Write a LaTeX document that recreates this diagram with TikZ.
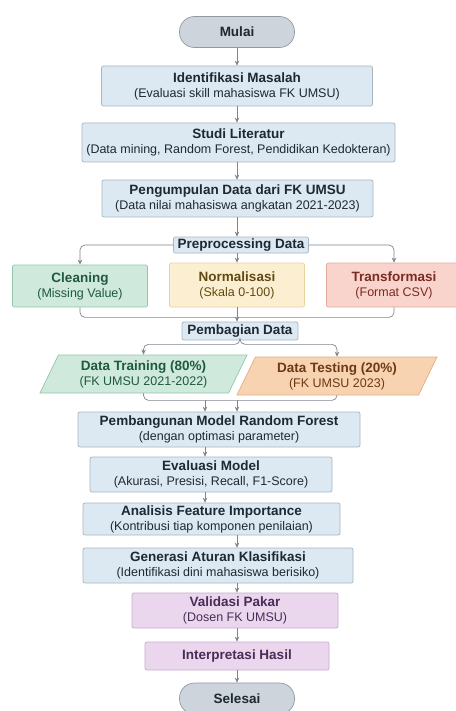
\documentclass[tikz,border=0pt]{standalone}
\usepackage{fontspec}
\setmainfont{Liberation Sans}
\usetikzlibrary{shapes.geometric,arrows.meta}

\definecolor{boxfill}{HTML}{DDE9F2}
\definecolor{boxline}{HTML}{A7B6C3}
\definecolor{termfill}{HTML}{CDD4DB}
\definecolor{termline}{HTML}{8F9AA5}
\definecolor{linec}{HTML}{7E8790}
\definecolor{greenfill}{HTML}{CFE9DC}
\definecolor{greenline}{HTML}{94C6AD}
\definecolor{greentext}{HTML}{1F5A3E}
\definecolor{yellowfill}{HTML}{FCEFD1}
\definecolor{yellowline}{HTML}{E8D29E}
\definecolor{yellowtext}{HTML}{5E4A12}
\definecolor{redfill}{HTML}{F8D4CC}
\definecolor{redline}{HTML}{E5AAA0}
\definecolor{redtext}{HTML}{7A2B22}
\definecolor{orangefill}{HTML}{F8D3B1}
\definecolor{orangeline}{HTML}{E2AE80}
\definecolor{orangetext}{HTML}{6B3A14}
\definecolor{purplefill}{HTML}{EAD7EE}
\definecolor{purpleline}{HTML}{C6ABCE}
\definecolor{purpletext}{HTML}{4A2C56}
\definecolor{inktext}{HTML}{1E2830}

\newcommand{\boxtitle}[1]{{\fontsize{13.5}{15}\selectfont\bfseries #1}}
\newcommand{\boxnote}[1]{{\fontsize{12.5}{15}\selectfont #1}}

\begin{document}
\begin{tikzpicture}[x=1pt,y=-1pt,
    box/.style={draw=boxline, fill=boxfill, rounded corners=2pt, line width=0.7pt,
      align=center, inner sep=0.5pt, text=inktext, font=\fontsize{12.5}{15}\selectfont},
    term/.style={draw=termline, fill=termfill, rounded corners=15pt, line width=0.7pt,
      minimum width=115pt, minimum height=31pt, text=inktext},
    para/.style={trapezium, trapezium left angle=57, trapezium right angle=123,
      trapezium stretches body, line width=0.7pt, align=center, minimum height=38pt,
      inner sep=0.5pt, font=\fontsize{12.5}{15}\selectfont},
    green/.style={draw=greenline, fill=greenfill, text=greentext},
    yellow/.style={draw=yellowline, fill=yellowfill, text=yellowtext},
    red/.style={draw=redline, fill=redfill, text=redtext},
    orange/.style={draw=orangeline, fill=orangefill, text=orangetext},
    purple/.style={draw=purpleline, fill=purplefill, text=purpletext},
    link/.style={draw=linec, line width=0.7pt, rounded corners=5pt},
    arr/.style={link, -{Stealth[length=5pt,width=4.5pt]}}]

  \useasboundingbox (0,0) rectangle (455,711);
  \fill[white] (0,0) rectangle (455,711);

  % main flow
  \node[term] (start) at (237,32) {\boxtitle{Mulai}};
  \node[box, minimum width=271pt, minimum height=40pt] (ident) at (237,86)
    {\boxtitle{Identifikasi Masalah}\\\boxnote{(Evaluasi skill mahasiswa FK UMSU)}};
  \node[box, minimum width=313pt, minimum height=39pt] (lit) at (238.5,142.5)
    {\boxtitle{Studi Literatur}\\\boxnote{(Data mining, Random Forest, Pendidikan Kedokteran)}};
  \node[box, minimum width=271pt, minimum height=37pt] (collect) at (237.5,198.5)
    {\boxtitle{Pengumpulan Data dari FK UMSU}\\\boxnote{(Data nilai mahasiswa angkatan 2021-2023)}};
  \node[box, minimum width=135pt, minimum height=16pt] (prep) at (241,245)
    {\boxtitle{Preprocessing Data}};

  % preprocessing steps
  \node[box, green, minimum width=135pt, minimum height=42pt] (clean) at (80,286)
    {\boxtitle{Cleaning}\\\boxnote{(Missing Value)}};
  \node[box, yellow, minimum width=135pt, minimum height=44pt] (norm) at (237,285)
    {\boxtitle{Normalisasi}\\\boxnote{(Skala 0-100)}};
  \node[box, red, minimum width=135pt, minimum height=44pt] (trans) at (394,285)
    {\boxtitle{Transformasi}\\\boxnote{(Format CSV)}};

  \node[box, minimum width=116pt, minimum height=18pt] (split) at (240,331)
    {\boxtitle{Pembagian Data}};

  % data split
  \node[para, green, minimum width=207pt] (train) at (143.5,374)
    {\boxtitle{Data Training (80\%)}\\\boxnote{(FK UMSU 2021-2022)}};
  \node[para, orange, minimum width=200pt] (test) at (337,376)
    {\boxtitle{Data Testing (20\%)}\\\boxnote{(FK UMSU 2023)}};

  % modelling
  \node[box, minimum width=282pt, minimum height=35pt] (build) at (219,429.5)
    {\boxtitle{Pembangunan Model Random Forest}\\\boxnote{(dengan optimasi parameter)}};
  \node[box, minimum width=242pt, minimum height=35pt] (eval) at (211,474.5)
    {\boxtitle{Evaluasi Model}\\\boxnote{(Akurasi, Presisi, Recall, F1-Score)}};
  \node[box, minimum width=257pt, minimum height=32pt] (feat) at (211.5,519)
    {\boxtitle{Analisis Feature Importance}\\\boxnote{(Kontribusi tiap komponen penilaian)}};
  \node[box, minimum width=270pt, minimum height=35pt] (rules) at (218,565.5)
    {\boxtitle{Generasi Aturan Klasifikasi}\\\boxnote{(Identifikasi dini mahasiswa berisiko)}};
  \node[box, purple, minimum width=206pt, minimum height=35pt] (expert) at (235,610.5)
    {\boxtitle{Validasi Pakar}\\\boxnote{(Dosen FK UMSU)}};
  \node[box, purple, minimum width=184pt, minimum height=28pt] (interp) at (237,656)
    {\boxtitle{Interpretasi Hasil}};
  \node[term] (finish) at (237,698.5) {\boxtitle{Selesai}};

  % connectors
  \coordinate (axis) at (237,0);
  \coordinate (axisL) at (205,0);
  \coordinate (mergeL) at (205,400);
  \coordinate (mergeR) at (237,400);

  \draw[arr] (start.south -| axis) -- (ident.north -| axis);
  \draw[arr] (ident.south -| axis) -- (lit.north -| axis);
  \draw[arr] (lit.south -| axis) -- (collect.north -| axis);
  \draw[arr] (collect.south -| axis) -- (prep.north -| axis);

  \draw[arr] (prep.west) -| (clean.north);
  \draw[arr] (prep.east) -| (trans.north);
  \draw[arr] (prep.south -| axis) -- (norm.north);
  \draw[link] (clean.south) -- ++(0,10) -| (trans.south);
  \draw[arr] (norm.south) -- (split.north -| norm.south);

  \draw[arr] (split.south) -- ++(0,4) -| (train.north);
  \draw[arr] (split.south) -- ++(0,4) -| (test.north);
  \draw[link] (train.south) -- ++(0,7) -| (test.south);
  \draw[arr] (mergeL) -- (build.north -| mergeL);
  \draw[arr] (mergeR) -- (build.north -| mergeR);

  \draw[arr] (build.south -| axisL) -- (eval.north -| axisL);
  \draw[arr] (eval.south -| axisL) -- (feat.north -| axisL);
  \draw[arr] (feat.south -| axis) -- (rules.north -| axis);
  \draw[arr] (rules.south -| axis) -- (expert.north -| axis);
  \draw[arr] (expert.south -| axis) -- (interp.north -| axis);
  \draw[arr] (interp.south -| axis) -- (finish.north -| axis);
\end{tikzpicture}
\end{document}
